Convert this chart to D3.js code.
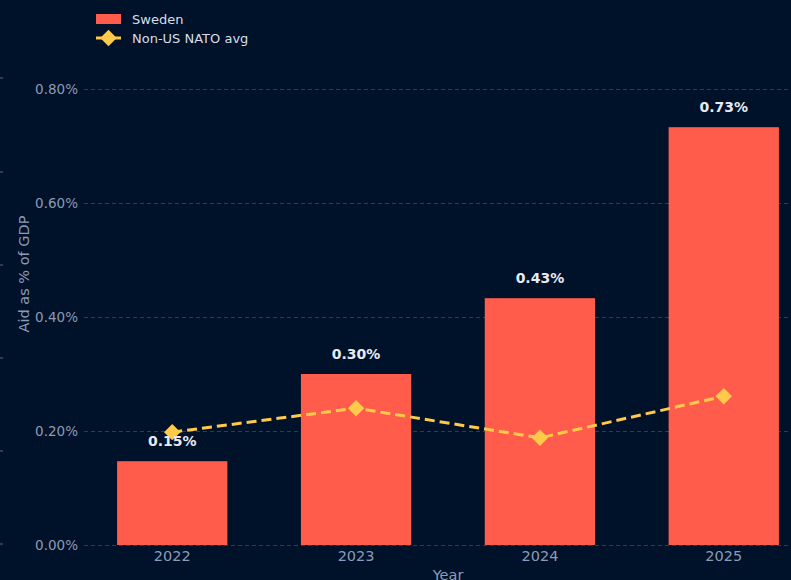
<!DOCTYPE html>
<html><head><meta charset="utf-8">
<script src="https://cdn.jsdelivr.net/npm/d3@7"></script>
<style>html,body{margin:0;padding:0;background:#00112a;}svg{display:block;}</style>
</head><body>
<script>
const years = ["2022","2023","2024","2025"];
const swedenValues = [0.147, 0.300, 0.433, 0.733];
const swedenLabels = ["0.15%","0.30%","0.43%","0.73%"];
const natoAvg = [0.198, 0.240, 0.188, 0.261];
const yTicks = [0, 0.2, 0.4, 0.6, 0.8];
const edgeTicks = [78, 172, 265, 358, 451, 544];

const W = 791, H = 580;
const bg = "#00112a", barColor = "#ff5c4c", lineColor = "#ffc94a", textCol = "#8d9bb4";
const font = "DejaVu Sans, sans-serif";

const svg = d3.select("body").append("svg").attr("width", W).attr("height", H);
svg.append("rect").attr("width", W).attr("height", H).attr("fill", bg);

const x = d3.scaleLinear().domain([-0.48, 3.48]).range([84, 812]);
const step = x(1) - x(0);
const barW = step * 0.6;
const y = d3.scaleLinear().domain([0, 0.8]).range([545, 89]);

svg.selectAll(".edge").data(edgeTicks).enter().append("line")
  .attr("x1", 0).attr("x2", 3).attr("y1", d => d).attr("y2", d => d)
  .attr("stroke", "#5a6a85").attr("stroke-width", 1);

svg.selectAll(".grid").data(yTicks).enter().append("line")
  .attr("x1", 84).attr("x2", W).attr("y1", d => y(d) + 0.5).attr("y2", d => y(d) + 0.5)
  .attr("stroke", "#2c3c58").attr("stroke-width", 1).attr("stroke-dasharray", "4,3");

svg.selectAll(".yt").data(yTicks).enter().append("text")
  .attr("x", 78).attr("y", d => y(d)).attr("dy", "0.35em").attr("text-anchor", "end")
  .attr("fill", textCol).attr("font-family", font).attr("font-size", 13.5)
  .text(d => d3.format(".2f")(d) + "%");

svg.selectAll(".bar").data(swedenValues).enter().append("rect")
  .attr("x", (d, i) => x(i) - barW / 2).attr("width", barW)
  .attr("y", d => y(d)).attr("height", d => y(0) - y(d))
  .attr("fill", barColor);

svg.selectAll(".xt").data(years).enter().append("text")
  .attr("x", (d, i) => x(i)).attr("y", 561).attr("text-anchor", "middle")
  .attr("fill", textCol).attr("font-family", font).attr("font-size", 14.5).text(d => d);

const line = d3.line().x((d, i) => x(i)).y(d => y(d));
svg.append("path").datum(natoAvg).attr("d", line).attr("fill", "none")
  .attr("stroke", lineColor).attr("stroke-width", 3).attr("stroke-dasharray", "10,5");
svg.selectAll(".mk").data(natoAvg).enter().append("path")
  .attr("d", d3.symbol().type(d3.symbolSquare).size(135))
  .attr("transform", (d, i) => `translate(${x(i)},${y(d)}) rotate(45)`)
  .attr("fill", lineColor);

svg.selectAll(".vl").data(swedenValues).enter().append("text")
  .attr("x", (d, i) => x(i)).attr("y", d => y(d) - 15).attr("text-anchor", "middle")
  .attr("fill", "#e6ebf2").attr("font-family", font).attr("font-size", 14).attr("font-weight", "bold")
  .text((d, i) => swedenLabels[i]);

svg.append("text").attr("transform", "translate(29,274) rotate(-90)").attr("text-anchor", "middle")
  .attr("fill", textCol).attr("font-family", font).attr("font-size", 14.5).text("Aid as % of GDP");
svg.append("text").attr("x", 448).attr("y", 580).attr("text-anchor", "middle")
  .attr("fill", textCol).attr("font-family", font).attr("font-size", 14.5).text("Year");

const lg = svg.append("g");
lg.append("rect").attr("x", 96).attr("y", 14).attr("width", 25).attr("height", 10).attr("fill", barColor);
lg.append("text").attr("x", 132).attr("y", 19).attr("dy", "0.35em").attr("fill", "#d8dee8")
  .attr("font-family", font).attr("font-size", 13).text("Sweden");
lg.append("line").attr("x1", 96).attr("x2", 121).attr("y1", 38).attr("y2", 38)
  .attr("stroke", lineColor).attr("stroke-width", 3);
lg.append("path").attr("d", d3.symbol().type(d3.symbolSquare).size(135)())
  .attr("transform", "translate(108.5,38) rotate(45)").attr("fill", lineColor);
lg.append("text").attr("x", 132).attr("y", 38).attr("dy", "0.35em").attr("fill", "#d8dee8")
  .attr("font-family", font).attr("font-size", 13).text("Non-US NATO avg");
</script>
</body></html>
